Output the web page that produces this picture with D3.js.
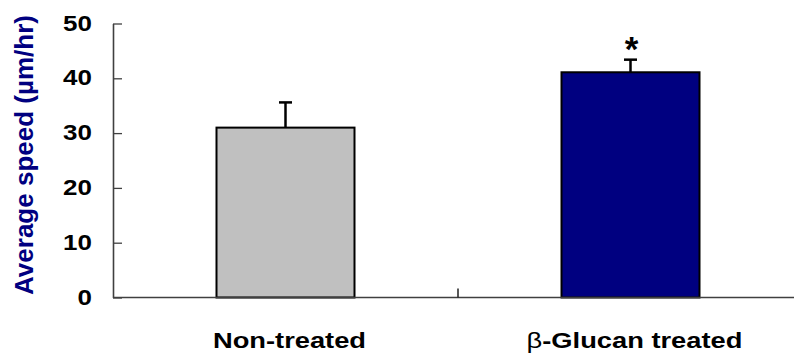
<!DOCTYPE html>
<html>
<head>
<meta charset="utf-8">
<script src="https://cdn.jsdelivr.net/npm/d3@7"></script>
<style>
  body { margin: 0; background: #fff; }
  svg text { font-family: "Liberation Sans", Arial, sans-serif; }
</style>
</head>
<body>
<div id="chart"></div>
<script>
// values
const groups = ["Non-treated", "β-Glucan treated"];
const speeds = [31, 41.1];
const errors = [4.6, 2.3];
const marks = ["", "*"];
const yTicks = [0, 10, 20, 30, 40, 50];
const colors = ["#c0c0c0", "#000080"];

const width = 794;
const height = 356;

const svg = d3.select("#chart")
	.append("svg")
		.attr("width", width)
		.attr("height", height);

const x = d3.scaleBand()
	.domain(groups)
	.range([113, 803])
	.paddingInner(0.6)
	.paddingOuter(0.3);

const y = d3.scaleLinear()
	.domain([0, 50])
	.range([297.5, 23.5]);

// stretch text horizontally like the original (it was saved a bit wide)
function stretch(sel, f) {
	sel.each(function() {
		const w = this.getComputedTextLength();
		d3.select(this)
			.attr("textLength", w * f)
			.attr("lengthAdjust", "spacingAndGlyphs");
	});
}

// bars
svg.selectAll("rect.bar")
	.data(groups)
	.join("rect")
		.attr("class", "bar")
		.attr("x", d => x(d))
		.attr("y", (d, i) => y(speeds[i]))
		.attr("width", x.bandwidth())
		.attr("height", (d, i) => y(0) - y(speeds[i]))
		.attr("fill", (d, i) => colors[i])
		.attr("stroke", "#000")
		.attr("stroke-width", 2);

// error bars (upper only)
const err = svg.selectAll("g.err")
	.data(groups)
	.join("g")
		.attr("class", "err")
		.attr("stroke", "#000")
		.attr("stroke-width", 2.5);
err.append("line")
	.attr("x1", d => x(d) + x.bandwidth() / 2)
	.attr("x2", d => x(d) + x.bandwidth() / 2)
	.attr("y1", (d, i) => y(speeds[i]))
	.attr("y2", (d, i) => y(speeds[i] + errors[i]));
err.append("line")
	.attr("x1", d => x(d) + x.bandwidth() / 2 - 6.5)
	.attr("x2", d => x(d) + x.bandwidth() / 2 + 6.5)
	.attr("y1", (d, i) => y(speeds[i] + errors[i]))
	.attr("y2", (d, i) => y(speeds[i] + errors[i]));

// significance star
svg.selectAll("text.mark")
	.data(groups)
	.join("text")
		.attr("class", "mark")
		.attr("x", d => x(d) + x.bandwidth() / 2 + 1)
		.attr("y", (d, i) => y(speeds[i] + errors[i]) + 1.5)
		.attr("text-anchor", "middle")
		.attr("font-size", 35)
		.attr("font-weight", "bold")
		.text((d, i) => marks[i]);

// y axis
const yAxis = svg.append("g")
	.attr("transform", "translate(113,0)")
	.call(d3.axisLeft(y)
		.tickValues(yTicks)
		.tickSizeInner(-9)
		.tickSizeOuter(0)
		.tickPadding(21));
yAxis.select(".domain").attr("stroke", "#404040").attr("stroke-width", 1.6);
yAxis.selectAll(".tick line").attr("stroke", "#404040").attr("stroke-width", 1.3);
yAxis.selectAll(".tick text")
	.attr("font-size", 22)
	.attr("font-weight", "bold")
	.attr("fill", "#000")
	.attr("dy", "0.3em")
	.call(stretch, 1.18);

// x axis line + separator tick between groups
svg.append("line")
	.attr("x1", x.range()[0])
	.attr("x2", x.range()[1])
	.attr("y1", y(0))
	.attr("y2", y(0))
	.attr("stroke", "#404040")
	.attr("stroke-width", 1.6);
const sep = x(groups[1]) - x.step() * x.paddingInner() / 2;
svg.append("line")
	.attr("x1", sep)
	.attr("x2", sep)
	.attr("y1", y(0))
	.attr("y2", y(0) - 9)
	.attr("stroke", "#202020")
	.attr("stroke-width", 1.5);

// x labels
const xl = svg.selectAll("text.xlab")
	.data(groups)
	.join("text")
		.attr("class", "xlab")
		.attr("x", d => x(d) + x.bandwidth() / 2 + 4)
		.attr("y", 348)
		.attr("text-anchor", "middle")
		.attr("font-size", 22)
		.attr("font-weight", "bold");
xl.each(function(d) {
	const t = d3.select(this);
	if (d.startsWith("β")) {
		t.append("tspan").attr("font-weight", "normal").text("β");
		t.append("tspan").text(d.slice(1));
	} else {
		t.text(d);
	}
});
xl.call(stretch, 1.24);

// y title
svg.append("text")
	.attr("transform", "translate(33,155) rotate(-90)")
	.attr("text-anchor", "middle")
	.attr("font-size", 26)
	.attr("font-weight", "bold")
	.attr("fill", "#000080")
	.text("Average speed (µm/hr)")
	.call(stretch, 1.0);
</script>
</body>
</html>
